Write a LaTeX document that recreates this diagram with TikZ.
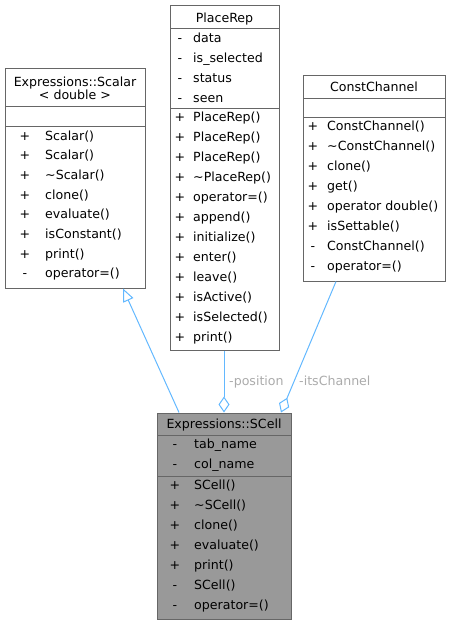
\documentclass[tikz,border=0pt]{standalone}
\usepackage{fontspec}
\setmainfont{DejaVu Sans}
\usetikzlibrary{arrows.meta}
\definecolor{bordergray}{HTML}{666666}
\definecolor{cellfill}{HTML}{999999}
\definecolor{edgeblue}{HTML}{63B8FF}
\definecolor{labelgray}{HTML}{ABABAB}
\newcommand{\cfont}{\fontsize{12.6}{14}\selectfont}
\tikzset{
  cls/.style={draw=bordergray, line width=1pt, fill=white, rectangle, inner sep=0pt},
  sepline/.style={draw=bordergray, line width=1pt},
  txt/.style={inner sep=0pt, anchor=base west, font=\cfont, text=black},
  sym/.style={inner sep=0pt, anchor=base, font=\cfont, text=black},
  ttl/.style={inner sep=0pt, anchor=base, font=\cfont, text=black},
  conn/.style={draw=edgeblue, line width=1pt},
  elabel/.style={inner sep=0pt, anchor=base west, font=\cfont, text=labelgray},
}
\begin{document}
\begin{tikzpicture}[x=1pt,y=-1pt]
\useasboundingbox (0,0) rectangle (450,624);

% ---------- Expressions::Scalar< double >
\node[cls, minimum width=140pt, minimum height=220pt] (scalar) at (75,178) {};
\draw[sepline] (5,106) -- (145,106);
\draw[sepline] (5,126) -- (145,126);
\node[ttl] (scalar-t1) at (75,86) {Expressions::Scalar};
\node[ttl] (scalar-t2) at (75,99) {< double >};
\foreach \s/\t [count=\i from 0] in {+/Scalar(),+/Scalar(),+/\textasciitilde Scalar(),+/clone(),+/evaluate(),+/isConstant(),+/print(),-/operator=()}{
  \node[sym] (scalar-s\i) at (25,{140+19.7*\i}) {\s};
  \node[txt] (scalar-m\i) at (45,{140+19.7*\i}) {\t};
}

% ---------- PlaceRep
\node[cls, minimum width=109pt, minimum height=345pt] (placerep) at (224.5,177.5) {};
\draw[sepline] (170,28) -- (279,28);
\draw[sepline] (170,108) -- (279,108);
\node[ttl] (placerep-t) at (224.5,22) {PlaceRep};
\foreach \t [count=\i from 0] in {data,is\_selected,status,seen}{
  \node[sym] (placerep-as\i) at (180,{42+20*\i}) {-};
  \node[txt] (placerep-a\i) at (193,{42+20*\i}) {\t};
}
\foreach \t [count=\i from 0] in {PlaceRep(),PlaceRep(),PlaceRep(),\textasciitilde PlaceRep(),operator=(),append(),initialize(),enter(),leave(),isActive(),isSelected(),print()}{
  \node[sym] (placerep-s\i) at (180,{121+20*\i}) {+};
  \node[txt] (placerep-m\i) at (193,{121+20*\i}) {\t};
}

% ---------- ConstChannel
\node[cls, minimum width=142pt, minimum height=206pt] (const) at (374,178) {};
\draw[sepline] (303,98) -- (445,98);
\draw[sepline] (303,117) -- (445,117);
\node[ttl] (const-t) at (374,91) {ConstChannel};
\foreach \s/\t [count=\i from 0] in {+/ConstChannel(),+/\textasciitilde ConstChannel(),+/clone(),+/get(),+/operator double(),+/isSettable(),-/ConstChannel(),-/operator=()}{
  \node[sym] (const-s\i) at (313,{130+20*\i}) {\s};
  \node[txt] (const-m\i) at (327,{130+20*\i}) {\t};
}

% ---------- Expressions::SCell
\node[cls, fill=cellfill, minimum width=134pt, minimum height=206pt] (scell) at (224,516) {};
\draw[sepline] (157,435) -- (291,435);
\draw[sepline] (157,476) -- (291,476);
\node[ttl] (scell-t) at (224,428) {Expressions::SCell};
\foreach \t [count=\i from 0] in {tab\_name,col\_name}{
  \node[sym] (scell-as\i) at (175,{448+20*\i}) {-};
  \node[txt] (scell-a\i) at (194,{448+20*\i}) {\t};
}
\foreach \s/\t [count=\i from 0] in {+/SCell(),+/\textasciitilde SCell(),+/clone(),+/evaluate(),+/print(),-/SCell(),-/operator=()}{
  \node[sym] (scell-s\i) at (175,{489+20*\i}) {\s};
  \node[txt] (scell-m\i) at (194,{489+20*\i}) {\t};
}

% ---------- connectors
\draw[conn, -{Triangle[open, length=13pt, width=11pt]}]
  ([xshift=-45pt]scell.north) -- ([xshift=48pt]scalar.south);
\draw[conn, -{Diamond[open, length=16pt, width=11pt]}]
  (placerep.south -| scell.north) -- (scell.north);
\draw[conn, -{Diamond[open, length=16pt, width=11pt]}]
  ([xshift=-38pt]const.south) -- ([xshift=57pt]scell.north);
\node[elabel] (lbl-pos) at (229,385) {-position};
\node[elabel] (lbl-chan) at (299,385) {-itsChannel};
\end{tikzpicture}
\end{document}
